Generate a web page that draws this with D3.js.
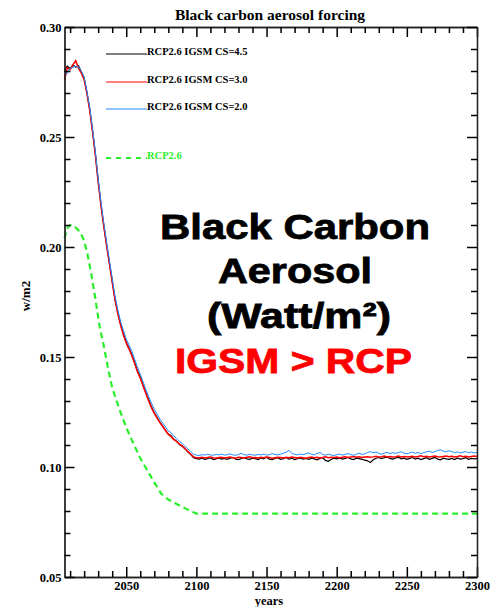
<!DOCTYPE html>
<html>
<head>
<meta charset="utf-8">
<script src="https://cdn.jsdelivr.net/npm/d3@7"></script>
<style>
  html, body { margin: 0; padding: 0; background: #ffffff; }
  svg { display: block; }
  .tk line { stroke: #000; stroke-width: 1.5px; }
</style>
</head>
<body>
<div id="chart"></div>
<script>
// ---------- DATA ----------
const title = "Black carbon aerosol forcing";
const xLabel = "years";
const yLabel = "w/m2";
const xMajorTicks = [2050, 2100, 2150, 2200, 2250, 2300];
const yMajorTicks = [0.05, 0.10, 0.15, 0.20, 0.25, 0.30];
const seriesNames = ["RCP2.6 IGSM CS=4.5", "RCP2.6 IGSM CS=3.0", "RCP2.6 IGSM CS=2.0", "RCP2.6"];

// IGSM series sampled every 2 years, 2006..2300
const igsmYears = d3.range(2006, 2301, 2);

const igsmCS45 = [
  0.2805,0.2822,0.2812,0.2826,0.2818,0.2824,0.2796,0.2768,
  0.2702,0.2626,0.2528,0.2422,0.2302,0.2192,0.2098,0.2012,
  0.1928,0.1846,0.1764,0.1702,0.1648,0.1606,0.1568,0.1540,
  0.1512,0.1474,0.1438,0.1408,0.1372,0.1338,0.1306,0.1274,
  0.1246,0.1226,0.1204,0.1186,0.1166,0.1150,0.1142,0.1126,
  0.1116,0.1102,0.1094,0.1082,0.1068,0.1056,0.1042,0.1038,
  0.1036,0.1040,0.1035,0.1038,0.1042,0.1034,0.1037,0.1041,0.1036,0.1039,
  0.1035,0.1040,0.1043,0.1036,0.1033,0.1039,0.1042,0.1037,0.1035,0.1040,
  0.1038,0.1034,0.1041,0.1037,0.1044,0.1036,0.1033,0.1039,0.1042,0.1035,
  0.1038,0.1043,0.1036,0.1040,0.1034,0.1038,0.1041,0.1036,0.1039,0.1035,
  0.1040,0.1037,0.1033,0.1039,0.1042,0.1030,0.1026,0.1034,0.1040,0.1037,
  0.1041,0.1036,0.1039,0.1044,0.1037,0.1034,0.1040,0.1038,0.1035,0.1031,
  0.1028,0.1020,0.1033,0.1040,0.1043,0.1038,0.1042,0.1046,0.1039,0.1036,
  0.1041,0.1044,0.1037,0.1040,0.1035,0.1039,0.1043,0.1036,0.1040,0.1034,
  0.1038,0.1042,0.1035,0.1039,0.1044,0.1036,0.1033,0.1040,0.1037,0.1035,
  0.1039,0.1034,0.1041,0.1036,0.1038,0.1042,0.1035,0.1039,0.1037,0.1038
];

const igsmCS30 = [
  0.2758,0.2815,0.2806,0.2828,0.2847,0.2812,0.2790,0.2760,
  0.2698,0.2620,0.2524,0.2418,0.2296,0.2188,0.2094,0.2006,
  0.1924,0.1840,0.1760,0.1696,0.1644,0.1600,0.1564,0.1536,
  0.1506,0.1470,0.1432,0.1404,0.1368,0.1334,0.1300,0.1270,
  0.1244,0.1222,0.1202,0.1184,0.1166,0.1148,0.1138,0.1124,
  0.1116,0.1104,0.1095,0.1083,0.1070,0.1058,0.1046,0.1042,
  0.1042,0.1044,0.1041,0.1043,0.1045,0.1042,0.1040,0.1043,0.1044,0.1041,
  0.1043,0.1045,0.1042,0.1040,0.1044,0.1043,0.1041,0.1044,0.1046,0.1042,
  0.1043,0.1041,0.1044,0.1042,0.1045,0.1043,0.1040,0.1042,0.1044,0.1043,
  0.1041,0.1044,0.1042,0.1045,0.1043,0.1041,0.1044,0.1042,0.1040,0.1043,
  0.1045,0.1042,0.1044,0.1041,0.1043,0.1046,0.1042,0.1044,0.1043,0.1045,
  0.1042,0.1044,0.1047,0.1043,0.1045,0.1048,0.1044,0.1046,0.1043,0.1045,
  0.1047,0.1044,0.1046,0.1049,0.1045,0.1047,0.1050,0.1046,0.1048,0.1045,
  0.1047,0.1050,0.1046,0.1048,0.1045,0.1047,0.1049,0.1046,0.1048,0.1051,
  0.1047,0.1049,0.1046,0.1048,0.1050,0.1047,0.1045,0.1048,0.1050,0.1047,
  0.1049,0.1046,0.1048,0.1051,0.1047,0.1049,0.1046,0.1048,0.1050,0.1048
];

const igsmCS20 = [
  0.2800,0.2788,0.2812,0.2816,0.2822,0.2818,0.2800,0.2772,
  0.2708,0.2634,0.2538,0.2432,0.2314,0.2204,0.2110,0.2024,
  0.1940,0.1858,0.1778,0.1714,0.1662,0.1620,0.1582,0.1554,
  0.1526,0.1490,0.1454,0.1422,0.1388,0.1352,0.1320,0.1290,
  0.1262,0.1240,0.1218,0.1200,0.1182,0.1164,0.1156,0.1140,
  0.1128,0.1116,0.1106,0.1094,0.1082,0.1070,0.1058,0.1054,
  0.1052,0.1056,0.1054,0.1058,0.1055,0.1053,0.1057,0.1055,0.1059,0.1054,
  0.1056,0.1060,0.1055,0.1053,0.1057,0.1062,0.1056,0.1054,0.1058,0.1055,
  0.1053,0.1057,0.1055,0.1059,0.1054,0.1056,0.1061,0.1057,0.1055,0.1058,
  0.1063,0.1067,0.1076,0.1062,0.1058,0.1055,0.1059,0.1056,0.1060,0.1064,
  0.1058,0.1055,0.1061,0.1066,0.1057,0.1054,0.1058,0.1055,0.1052,0.1056,
  0.1059,0.1054,0.1057,0.1061,0.1056,0.1053,0.1058,0.1063,0.1057,0.1060,
  0.1066,0.1070,0.1064,0.1068,0.1062,0.1058,0.1063,0.1067,0.1061,0.1065,
  0.1062,0.1066,0.1069,0.1063,0.1060,0.1064,0.1068,0.1062,0.1066,0.1061,
  0.1065,0.1069,0.1072,0.1066,0.1070,0.1075,0.1078,0.1072,0.1069,0.1074,
  0.1070,0.1066,0.1069,0.1064,0.1067,0.1070,0.1065,0.1068,0.1064,0.1066
];

// RCP2.6 reference series
const rcpYears = [2006,2008,2010,2013,2016,2019,2022,2025,2028,2031,2034,2037,2040,2045,2050,2055,2060,2065,2070,2075,2080,2085,2090,2095,2100,2150,2200,2250,2300];
const rcp26 = [0.2040,0.2085,0.2100,0.2095,0.2075,0.2045,0.1980,0.1880,0.1765,0.1640,0.1550,0.1450,0.1360,0.1265,0.1180,0.1108,0.1040,0.0985,0.0930,0.0878,0.0852,0.0835,0.0818,0.0803,0.0788,0.0788,0.0788,0.0788,0.0788];

const annotationLines = ["Black Carbon", "Aerosol", "(Watt/m²)", "IGSM > RCP"];

// ---------- LAYOUT ----------
const W = 491, H = 607;
const plot = { left: 64.5, right: 477, top: 27, bottom: 577 };
const serif = "'Liberation Serif','Times New Roman',Times,serif";
const sans = "'Liberation Sans',Arial,Helvetica,sans-serif";
const colors = { black: "#000000", red: "#ff0000", blue: "#1e8cff", green: "#2aee2a" };

const svg = d3.select("#chart").append("svg")
  .attr("width", W).attr("height", H);

const x = d3.scaleLinear().domain([2006, 2300]).range([plot.left, plot.right]);
const y = d3.scaleLinear().domain([0.05, 0.30]).range([plot.bottom, plot.top]);

const xMinor = d3.range(2010, 2300, 10).filter(v => v % 50 !== 0);
const yMinor = d3.range(6, 30, 1).map(v => v / 100).filter(v => Math.round(v * 100) % 5 !== 0);

// ---------- LINES ----------
const line = d3.line().x(d => x(d[0])).y(d => y(d[1]));
const zip = (xs, ys) => xs.map((v, i) => [v, ys[i]]);

svg.append("path").datum(zip(rcpYears, rcp26))
  .attr("d", line).attr("fill", "none").attr("stroke", colors.green)
  .attr("stroke-width", 2.2).attr("stroke-dasharray", "6,4");
svg.append("path").datum(zip(igsmYears, igsmCS45))
  .attr("d", line).attr("fill", "none").attr("stroke", colors.black).attr("stroke-width", 1.2);
svg.append("path").datum(zip(igsmYears, igsmCS30))
  .attr("d", line).attr("fill", "none").attr("stroke", colors.red).attr("stroke-width", 1.5);
svg.append("path").datum(zip(igsmYears, igsmCS20))
  .attr("d", line).attr("fill", "none").attr("stroke", colors.blue).attr("stroke-width", 1);

// ---------- AXES (ticks inward on all four sides) ----------
function ax(gen, tx, ty, vals, size, fmt, pad) {
  const g = svg.append("g").attr("class", "tk").attr("transform", `translate(${tx},${ty})`)
    .call(gen.tickValues(vals).tickSizeInner(-size).tickSizeOuter(0).tickPadding(pad).tickFormat(fmt));
  g.select(".domain").attr("stroke", "#222").attr("stroke-width", 1.3);
  g.selectAll(".tick text").attr("font-family", serif).attr("font-weight", "bold")
    .attr("font-size", "12.5px").attr("fill", "#000");
  return g;
}
ax(d3.axisBottom(x), 0, plot.bottom, xMajorTicks, 10, d3.format("d"), 4);
ax(d3.axisBottom(x), 0, plot.bottom, xMinor, 6, () => "", 4);
ax(d3.axisTop(x), 0, plot.top, xMajorTicks, 10, () => "", 4);
ax(d3.axisTop(x), 0, plot.top, xMinor, 6, () => "", 4);
ax(d3.axisLeft(y), plot.left, 0, yMajorTicks, 10, d3.format(".2f"), 3);
ax(d3.axisLeft(y), plot.left, 0, yMinor, 6, () => "", 3);
ax(d3.axisRight(y), plot.right, 0, yMajorTicks, 10, () => "", 3);
ax(d3.axisRight(y), plot.right, 0, yMinor, 6, () => "", 3);

// ---------- LEGEND ----------
const legendRows = [
  { name: seriesNames[0], color: colors.black, text: "#000", y: 54, dash: null, w: 1.2 },
  { name: seriesNames[1], color: "#ff5555", text: "#000", y: 82, dash: null, w: 1.5 },
  { name: seriesNames[2], color: colors.blue, text: "#000", y: 109, dash: null, w: 1.2 },
  { name: seriesNames[3], color: colors.green, text: colors.green, y: 158, dash: "5,5", w: 2 }
];
legendRows.forEach(r => {
  svg.append("line").attr("x1", 106).attr("x2", 147).attr("y1", r.y).attr("y2", r.y)
    .attr("stroke", r.color).attr("stroke-width", r.w)
    .attr("stroke-dasharray", r.dash);
  svg.append("text").attr("x", 147).attr("y", r.y + 1)
    .attr("font-family", serif).attr("font-weight", "bold").attr("font-size", "10.5px")
    .attr("fill", r.text).text(r.name);
});

// ---------- TITLES ----------
svg.append("text").attr("x", 270).attr("y", 20).attr("text-anchor", "middle")
  .attr("font-family", serif).attr("font-weight", "bold").attr("font-size", "15.5px")
  .text(title);
svg.append("text").attr("x", 269).attr("y", 605).attr("text-anchor", "middle")
  .attr("font-family", serif).attr("font-weight", "bold").attr("font-size", "12.5px")
  .text(xLabel);
svg.append("text").attr("transform", "translate(30,296) rotate(-90)").attr("text-anchor", "middle")
  .attr("font-family", serif).attr("font-weight", "bold").attr("font-size", "13px")
  .text(yLabel);

// ---------- ANNOTATION ----------
const annot = [
  { x: 160, w: 270, y: 239, fill: "#000" },
  { x: 218, w: 154, y: 283, fill: "#000" },
  { x: 207, w: 184, y: 328, fill: "#000" },
  { x: 175, w: 237, y: 373, fill: "#ff0000" }
];
annotationLines.forEach((t, i) => {
  svg.append("text").attr("x", annot[i].x).attr("y", annot[i].y)
    .attr("font-family", sans).attr("font-weight", "bold").attr("font-size", "35px")
    .attr("fill", annot[i].fill).attr("stroke", annot[i].fill).attr("stroke-width", 0.8)
    .attr("textLength", annot[i].w).attr("lengthAdjust", "spacingAndGlyphs")
    .text(t);
});
</script>
</body>
</html>
